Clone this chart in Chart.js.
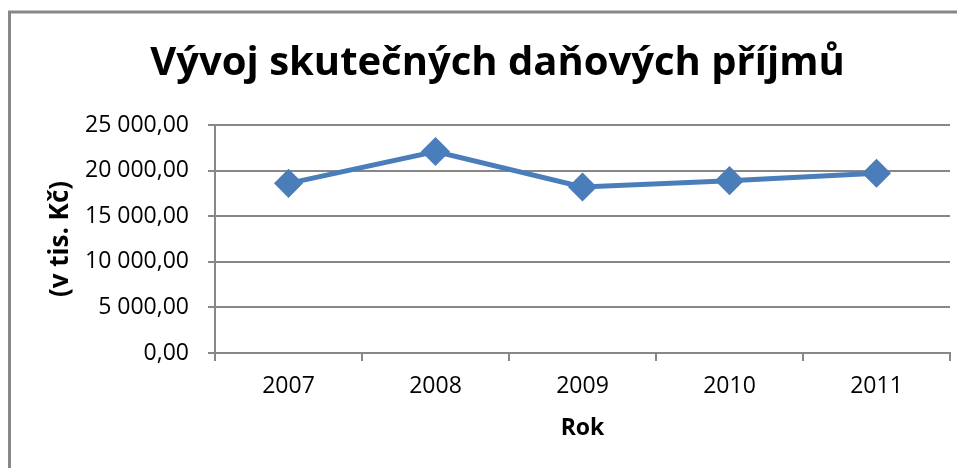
<!DOCTYPE html>
<html>
<head>
<meta charset="utf-8">
<script src="https://cdn.jsdelivr.net/npm/chart.js@4/dist/chart.umd.min.js"></script>
<style>
  html, body { margin: 0; padding: 0; background: #fff; }
  #wrap { width: 957px; height: 468px; position: relative; }
</style>
</head>
<body>
<div id="wrap"><canvas id="c"></canvas></div>
<script>
var years = ["2007", "2008", "2009", "2010", "2011"];
var prijmy = [18600, 22100, 18200, 18900, 19700];
var yTicks = [0, 5000, 10000, 15000, 20000, 25000];

var gray = "#878787";
var blue = "#4A7EBB";
var font = "'Open Sans'";

function fmt(v) {
    var s = v.toFixed(2).split(".");
    var whole = s[0].replace(/\B(?=(\d{3})+(?!\d))/g, " ");
    return whole + "," + s[1];
}

// frame round the chart (only left and top edges are in view)
var frame = {
    id: "frame",
    beforeDraw: function(chart) {
        var ctx = chart.ctx;
        ctx.save();
        ctx.strokeStyle = gray;
        ctx.lineWidth = 3;
        ctx.beginPath();
        ctx.moveTo(9.5, 468);
        ctx.lineTo(9.5, 12);
        ctx.lineTo(957, 12);
        ctx.stroke();
        ctx.restore();
    }
};

new Chart(document.getElementById("c"), {
    type: "line",
    data: {
        labels: years,
        datasets: [{
            label: "Příjmy",
            data: prijmy,
            borderColor: blue,
            backgroundColor: blue,
            borderWidth: 5,
            pointStyle: "rectRot",
            pointRadius: 11,
            pointHoverRadius: 11,
            tension: 0
        }]
    },
    options: {
        responsive: true,
        maintainAspectRatio: false,
        animation: false,
        layout: { autoPadding: false, padding: { left: 45, right: 7, top: 0, bottom: 0 } },
        plugins: {
            legend: { display: false },
            tooltip: { enabled: false },
            title: {
                display: true,
                text: "Vývoj skutečných daňových příjmů",
                color: "#000",
                font: { family: font, size: 40, weight: "bold" },
                padding: { top: 40, bottom: 37 }
            }
        },
        scales: {
            x: {
                offset: true,
                grid: {
                    offset: true,
                    drawOnChartArea: false,
                    drawTicks: true,
                    tickLength: 8,
                    color: gray,
                    lineWidth: 2
                },
                border: { color: gray, width: 2 },
                ticks: {
                    color: "#000",
                    font: { family: font, size: 23 },
                    padding: 12
                },
                title: {
                    display: true,
                    text: "Rok",
                    color: "#000",
                    font: { family: font, size: 23, weight: "bold" },
                    padding: { top: 0, bottom: 26 }
                },
                afterFit: function(scale) { scale.height = 115; }
            },
            y: {
                min: 0,
                max: 25000,
                afterBuildTicks: function(scale) {
                    scale.ticks = yTicks.map(function(v) { return { value: v }; });
                },
                grid: {
                    color: gray,
                    lineWidth: 2,
                    tickLength: 7
                },
                border: { color: gray, width: 2 },
                ticks: {
                    color: "#000",
                    font: { family: font, size: 23 },
                    padding: 19,
                    callback: function(v) { return fmt(v); }
                },
                title: {
                    display: true,
                    text: "(v tis. Kč)",
                    color: "#000",
                    font: { family: font, size: 26, weight: "bold" },
                    padding: { top: 0, bottom: 0 }
                },
                afterFit: function(scale) { scale.width = 170; }
            }
        }
    },
    plugins: [frame]
});
</script>
</body>
</html>
